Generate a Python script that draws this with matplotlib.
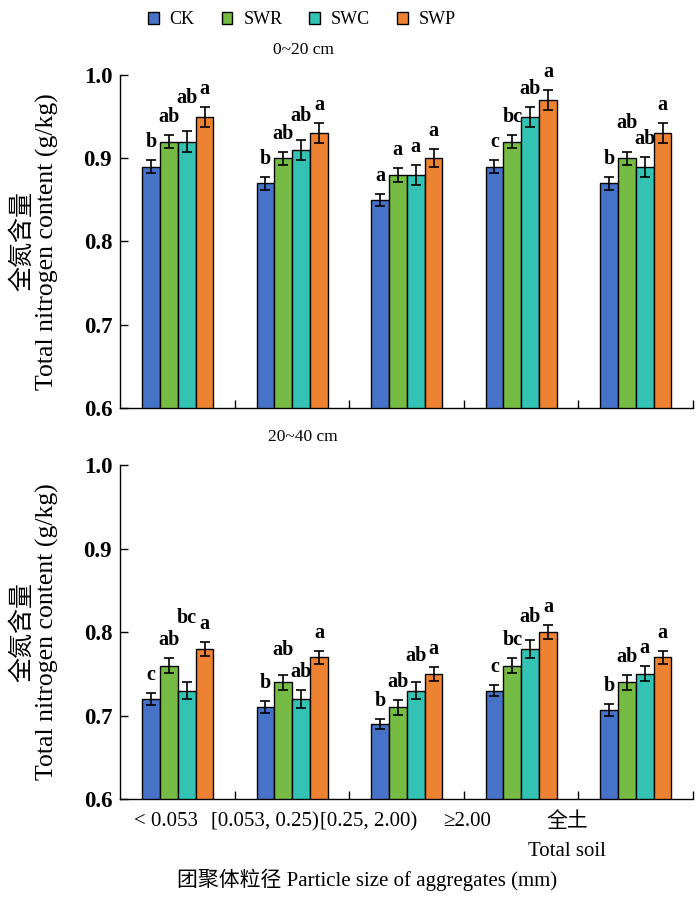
import matplotlib
matplotlib.use('Agg')
import matplotlib.pyplot as plt
from matplotlib.patches import Patch
import numpy as np

plt.rcParams['font.family'] = ['Liberation Serif', 'Noto Sans CJK SC']

groups = ['< 0.053', '[0.053, 0.25)', '[0.25, 2.00)', '≥2.00', '全土\nTotal soil']
treatments = ['CK', 'SWR', 'SWC', 'SWP']
colors = ['#4673C8', '#76BB44', '#33C2B3', '#EE8233']

# 0~20 cm
top_ck = [0.89, 0.87, 0.85, 0.89, 0.87]
top_swr = [0.92, 0.90, 0.88, 0.92, 0.90]
top_swc = [0.92, 0.91, 0.88, 0.95, 0.89]
top_swp = [0.95, 0.93, 0.90, 0.97, 0.93]
top_ck_err = [0.008, 0.008, 0.007, 0.008, 0.008]
top_swr_err = [0.008, 0.008, 0.008, 0.008, 0.008]
top_swc_err = [0.013, 0.012, 0.012, 0.012, 0.012]
top_swp_err = [0.012, 0.012, 0.011, 0.012, 0.012]
top_ck_sig = ['b', 'b', 'a', 'c', 'b']
top_swr_sig = ['ab', 'ab', 'a', 'bc', 'ab']
top_swc_sig = ['ab', 'ab', 'a', 'ab', 'ab']
top_swp_sig = ['a', 'a', 'a', 'a', 'a']

# 20~40 cm
bot_ck = [0.72, 0.71, 0.69, 0.73, 0.707]
bot_swr = [0.76, 0.74, 0.71, 0.76, 0.74]
bot_swc = [0.73, 0.72, 0.73, 0.78, 0.75]
bot_swp = [0.78, 0.77, 0.75, 0.80, 0.77]
bot_ck_err = [0.007, 0.007, 0.0065, 0.007, 0.007]
bot_swr_err = [0.009, 0.009, 0.009, 0.009, 0.009]
bot_swc_err = [0.0105, 0.011, 0.0105, 0.011, 0.009]
bot_swp_err = [0.0085, 0.008, 0.0085, 0.008, 0.008]
bot_ck_sig = ['c', 'b', 'b', 'c', 'b']
bot_swr_sig = ['ab', 'ab', 'ab', 'bc', 'ab']
bot_swc_sig = ['bc', 'ab', 'ab', 'ab', 'a']
bot_swp_sig = ['a', 'a', 'a', 'a', 'a']

# letters lifted by hand in the original to avoid overlaps (pixels)
top_lift = {(0, 2): 15, (1, 2): 6, (4, 1): 11}
bot_lift = {(0, 2): 46, (1, 1): 7, (2, 2): 8, (3, 2): 5}

label_pos = [-0.10, 0.76, 1.67, 2.53, 3.40]
width = 0.156

fig = plt.figure(figsize=(7, 9.02), dpi=100)


def panel(rect, means, errs, sigs, lifts, title, title_y):
    ax = fig.add_axes(rect)
    x = np.arange(len(groups))
    for j in range(4):
        xs = x + (j - 1.5) * width
        ax.bar(xs, means[j], width, color=colors[j], edgecolor='black', linewidth=1,
               yerr=errs[j], capsize=3.5,
               error_kw=dict(elinewidth=1.2, capthick=1.2, ecolor='black'))
        for i in range(len(groups)):
            off = (13 + lifts.get((i, j), 0)) * 0.72
            ax.annotate(sigs[j][i], (xs[i], means[j][i] + errs[j][i]),
                        xytext=(0, off), textcoords='offset points',
                        ha='center', va='baseline', fontsize=14.5, fontweight='bold')
    ax.set_xlim(-0.5, 4.5)
    ax.set_ylim(0.6, 1.0)
    ax.set_yticks([0.6, 0.7, 0.8, 0.9, 1.0])
    ax.set_yticklabels(['0.6', '0.7', '0.8', '0.9', '1.0'], fontsize=16.5, fontweight='bold')
    ax.tick_params(axis='y', direction='in', length=6, width=1, pad=6)
    ax.set_xticks(label_pos)
    ax.set_xticks(np.arange(0.5, 5, 1), minor=True)
    ax.tick_params(axis='x', which='major', length=0, pad=9, labelsize=15)
    ax.tick_params(axis='x', which='minor', direction='in', length=6, width=1)
    ax.spines['top'].set_visible(False)
    ax.spines['right'].set_visible(False)
    ax.spines['left'].set_linewidth(1)
    ax.spines['bottom'].set_linewidth(1)
    fig.text(303 / 700, 1 - title_y / 902, title, ha='center', va='center', fontsize=12.5)
    yc = rect[1] + rect[3] / 2
    fig.text(22 / 700, yc, '全氮含量', rotation=90, ha='center', va='center', fontsize=18)
    fig.text(47 / 700, yc, 'Total nitrogen content (g/kg)', rotation=90,
             ha='center', va='center', fontsize=18.5)
    return ax


ax1 = panel([0.1721, 0.5477, 0.8179, 0.3692],
            [top_ck, top_swr, top_swc, top_swp],
            [top_ck_err, top_swr_err, top_swc_err, top_swp_err],
            [top_ck_sig, top_swr_sig, top_swc_sig, top_swp_sig],
            top_lift, '0~20 cm', 50)
ax1.set_xticklabels([])

ax2 = panel([0.1721, 0.1139, 0.8179, 0.3706],
            [bot_ck, bot_swr, bot_swc, bot_swp],
            [bot_ck_err, bot_swr_err, bot_swc_err, bot_swp_err],
            [bot_ck_sig, bot_swr_sig, bot_swc_sig, bot_swp_sig],
            bot_lift, '20~40 cm', 437)
ax2.set_xticklabels(groups, linespacing=1.75)

fig.text(367 / 700, 1 - 880 / 902, '团聚体粒径 Particle size of aggregates (mm)',
         ha='center', va='center', fontsize=15)

handles = [Patch(facecolor=c, edgecolor='black', linewidth=1) for c in colors]
fig.legend(handles, treatments, loc='center', bbox_to_anchor=(302 / 700, 1 - 20 / 902),
           ncol=4, frameon=False, fontsize=13, handlelength=0.6, handleheight=0.6,
           handletextpad=0.6, columnspacing=1.5)

fig.savefig('out.png', dpi=100)
